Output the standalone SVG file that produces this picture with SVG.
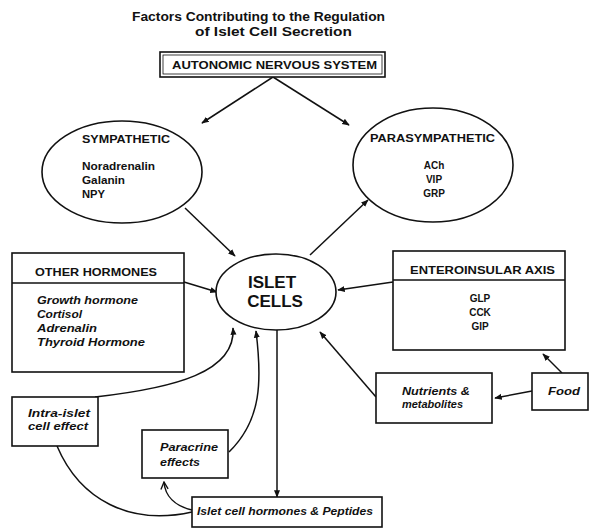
<svg xmlns="http://www.w3.org/2000/svg" width="590" height="529" viewBox="0 0 590 529">
<style>
.t{font-family:"Liberation Sans",Arial,sans-serif;font-weight:bold;fill:#111}
.h{font-size:10px}
.i{font-size:10px;font-style:italic}
.b{fill:#fff;stroke:#111;stroke-width:1.6}
.c{fill:none;stroke:#111;stroke-width:1.5}
</style>
<defs>
<marker id="ah" viewBox="0 0 10 10" refX="9" refY="5" markerWidth="5" markerHeight="5" orient="auto" markerUnits="strokeWidth">
<path d="M0,1 L10,5 L0,9 Z" fill="#111"/>
</marker>
<marker id="oh" viewBox="0 0 10 10" refX="9" refY="5" markerWidth="6" markerHeight="6" orient="auto" markerUnits="strokeWidth">
<path d="M1,1 L9,5 L1,9" fill="none" stroke="#111" stroke-width="1.5"/>
</marker>
</defs>
<rect width="590" height="529" fill="#fff"/>
<g id="title">
<text class="t" x="132" y="21" font-size="12" textLength="253" lengthAdjust="spacingAndGlyphs">Factors Contributing to the Regulation</text>
<text class="t" x="195" y="36" font-size="12" textLength="157" lengthAdjust="spacingAndGlyphs">of Islet Cell Secretion</text>
</g>
<g id="connectors">
<line class="c" x1="273" y1="77" x2="202" y2="123" marker-end="url(#ah)"/>
<line class="c" x1="273" y1="77" x2="349" y2="125" marker-end="url(#ah)"/>
<line class="c" x1="185" y1="208" x2="235" y2="256" marker-end="url(#ah)"/>
<line class="c" x1="310" y1="255" x2="368" y2="200" marker-end="url(#ah)"/>
<line class="c" x1="184" y1="282" x2="217" y2="292" marker-end="url(#ah)"/>
<line class="c" x1="393" y1="282" x2="338" y2="290" marker-end="url(#ah)"/>
<line class="c" x1="376" y1="397" x2="320" y2="332" marker-end="url(#ah)"/>
<line class="c" x1="532" y1="391" x2="495" y2="398" marker-end="url(#ah)"/>
<line class="c" x1="562" y1="373" x2="543" y2="354" marker-end="url(#ah)"/>
<line class="c" x1="277" y1="330" x2="277" y2="497" marker-end="url(#ah)"/>
<path class="c" d="M229 452 C262 420 262 380 256 331" marker-end="url(#ah)"/>
<path class="c" d="M95 397 C175 388 236 372 233 328" marker-end="url(#ah)"/>
<path class="c" d="M57 446 C80 500 130 526 192 512"/>
<path class="c" d="M192 510 C175 506 165 496 164 482" marker-end="url(#oh)"/>
</g>
<g id="ans">
<rect class="b" x="160" y="52" width="225" height="25"/>
<rect x="163" y="55" width="219" height="19" fill="none" stroke="#111" stroke-width="0.8"/>
<text class="t h" x="172" y="69" textLength="205" lengthAdjust="spacingAndGlyphs">AUTONOMIC NERVOUS SYSTEM</text>
</g>
<g id="sympathetic">
<ellipse class="b" cx="122" cy="172" rx="80" ry="51"/>
<text class="t h" x="82" y="143" textLength="88" lengthAdjust="spacingAndGlyphs">SYMPATHETIC</text>
<text class="t h" x="82" y="170" textLength="73" lengthAdjust="spacingAndGlyphs">Noradrenalin</text>
<text class="t h" x="82" y="184" textLength="43" lengthAdjust="spacingAndGlyphs">Galanin</text>
<text class="t h" x="82" y="198" textLength="23" lengthAdjust="spacingAndGlyphs">NPY</text>
</g>
<g id="parasympathetic">
<ellipse class="b" cx="433" cy="165" rx="80" ry="57"/>
<text class="t h" x="370" y="142" textLength="125" lengthAdjust="spacingAndGlyphs">PARASYMPATHETIC</text>
<text class="t h" x="434" y="169" text-anchor="middle">ACh</text>
<text class="t h" x="434" y="183" text-anchor="middle">VIP</text>
<text class="t h" x="434" y="197" text-anchor="middle">GRP</text>
</g>
<g id="islet">
<ellipse class="b" cx="276" cy="292" rx="60" ry="38"/>
<text class="t" x="272" y="288" font-size="17" text-anchor="middle">ISLET</text>
<text class="t" x="275" y="307" font-size="17" text-anchor="middle">CELLS</text>
</g>
<g id="other-hormones">
<rect class="b" x="12" y="253" width="172" height="119"/>
<line x1="12" y1="283" x2="184" y2="283" stroke="#111" stroke-width="1.6"/>
<text class="t h" x="35" y="276" textLength="122" lengthAdjust="spacingAndGlyphs">OTHER HORMONES</text>
<text class="t i" x="37" y="304" textLength="101" lengthAdjust="spacingAndGlyphs">Growth hormone</text>
<text class="t i" x="37" y="318" textLength="45" lengthAdjust="spacingAndGlyphs">Cortisol</text>
<text class="t i" x="37" y="332" textLength="60" lengthAdjust="spacingAndGlyphs">Adrenalin</text>
<text class="t i" x="37" y="346" textLength="108" lengthAdjust="spacingAndGlyphs">Thyroid Hormone</text>
</g>
<g id="enteroinsular">
<rect class="b" x="393" y="251" width="172" height="99"/>
<line x1="393" y1="280" x2="565" y2="280" stroke="#111" stroke-width="1.6"/>
<text class="t h" x="410" y="274" textLength="145" lengthAdjust="spacingAndGlyphs">ENTEROINSULAR AXIS</text>
<text class="t h" x="480" y="302" text-anchor="middle">GLP</text>
<text class="t h" x="480" y="316" text-anchor="middle">CCK</text>
<text class="t h" x="480" y="330" text-anchor="middle">GIP</text>
</g>
<g id="food">
<rect class="b" x="532" y="373" width="56" height="37"/>
<text class="t i" x="548" y="395" textLength="32" lengthAdjust="spacingAndGlyphs">Food</text>
</g>
<g id="nutrients">
<rect class="b" x="376" y="373" width="116" height="50"/>
<text class="t i" x="402" y="395" textLength="68" lengthAdjust="spacingAndGlyphs">Nutrients &amp;</text>
<text class="t i" x="402" y="408" textLength="61" lengthAdjust="spacingAndGlyphs">metabolites</text>
</g>
<g id="intra-islet">
<rect class="b" x="12" y="397" width="86" height="49"/>
<text class="t i" x="28" y="417" textLength="62" lengthAdjust="spacingAndGlyphs">Intra-islet</text>
<text class="t i" x="28" y="430" textLength="60" lengthAdjust="spacingAndGlyphs">cell effect</text>
</g>
<g id="paracrine">
<rect class="b" x="142" y="430" width="86" height="48"/>
<text class="t i" x="160" y="451" textLength="58" lengthAdjust="spacingAndGlyphs">Paracrine</text>
<text class="t i" x="160" y="466" textLength="40" lengthAdjust="spacingAndGlyphs">effects</text>
</g>
<g id="islet-hormones">
<rect class="b" x="192" y="497" width="190" height="30"/>
<text class="t i" x="197" y="515" textLength="176" lengthAdjust="spacingAndGlyphs">Islet cell hormones &amp; Peptides</text>
</g>
</svg>
